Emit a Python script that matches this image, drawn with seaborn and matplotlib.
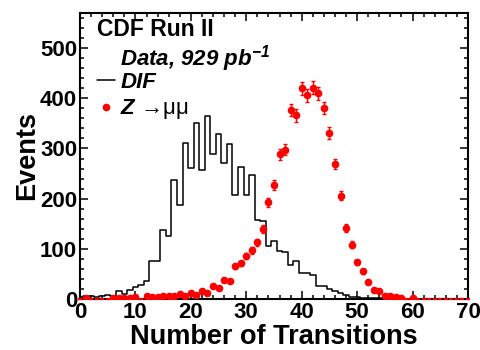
import numpy as np
import pandas as pd
import matplotlib
matplotlib.use("Agg")
import matplotlib.pyplot as plt
import seaborn as sns
from matplotlib.lines import Line2D
from matplotlib.ticker import MultipleLocator

# ---- data ----
bins = list(range(0, 71))
dif_counts = [3, 5, 6, 4, 5, 8, 5, 15, 10, 18,
              23, 28, 35, 76, 76, 137, 125, 238, 188, 311,
              261, 351, 258, 365, 288, 328, 271, 308, 208, 263,
              208, 248, 158, 155, 105, 116, 95, 93, 68, 75,
              51, 51, 48, 26, 25, 20, 15, 12, 8, 3,
              3, 2, 1, 1, 1, 0, 0, 0, 0, 0,
              0, 0, 0, 0, 0, 0, 0, 0, 0, 0, 0]
z_counts = [0, 1, 0, 0, 0, 0, 1, 1, 1, 2,
            3, 0, 5, 3, 3, 6, 6, 5, 9, 5,
            11, 8, 15, 11, 25, 21, 38, 36, 65, 71,
            86, 97, 113, 139, 193, 227, 288, 297, 377, 366,
            420, 406, 421, 410, 381, 330, 269, 206, 141, 108,
            73, 55, 34, 18, 15, 5, 5, 3, 1, 0,
            1, 0, 0, 0, 0, 0, 0, 0, 0, 0, 0]
z_errors = [0, 1, 0, 0, 0, 0, 1, 1, 1, 1,
            1, 0, 1.5, 1, 1, 1.5, 1.5, 1.5, 2, 1.5,
            2, 2, 2.5, 2, 3, 3, 4, 4, 5, 5.5,
            6, 6.5, 7, 7.5, 9, 10, 11, 11, 12.5, 12.5,
            13, 13, 13, 13, 12.5, 12, 10.5, 9.5, 7.5, 7,
            5.5, 5, 4, 3, 2.5, 1.5, 1.5, 1, 1, 0,
            1, 0, 0, 0, 0, 0, 0, 0, 0, 0, 0]
x_ticks = [0, 10, 20, 30, 40, 50, 60, 70]
y_ticks = [0, 100, 200, 300, 400, 500]

df = pd.DataFrame({"bin": bins, "dif": dif_counts, "z": z_counts,
                   "zerr": z_errors})

sns.set_theme(style="ticks")
plt.rcParams['font.family'] = ['Liberation Sans', 'DejaVu Sans']
for key in ["text.color", "axes.labelcolor", "xtick.color", "ytick.color",
            "axes.edgecolor"]:
    plt.rcParams[key] = "black"
plt.rcParams['mathtext.fontset'] = 'custom'
plt.rcParams['mathtext.rm'] = 'Liberation Sans'
plt.rcParams['mathtext.it'] = 'Liberation Sans:italic:bold'
plt.rcParams['mathtext.bf'] = 'Liberation Sans:italic:bold'

fig = plt.figure(figsize=(4.8, 3.5), dpi=100)
ax = fig.add_axes([80 / 480, 51 / 350, 388 / 480, 286 / 350])

edges = [b - 0.5 for b in bins] + [bins[-1] + 0.5]
sns.histplot(data=df, x="bin", weights="dif", bins=edges, element="step",
             fill=False, color="black", linewidth=1.1, ax=ax)

red = "#ff0000"
nzd = df[df["z"] > 0]
zd = df[df["z"] == 0]
ax.errorbar(nzd["bin"], nzd["z"], yerr=nzd["zerr"], fmt="o", color=red,
            ms=4.5, elinewidth=1.0, capsize=1.5, capthick=1.0, zorder=3)
ax.plot(zd["bin"], zd["z"], ls="none", marker="_", color=red, ms=3,
        mew=1.6, zorder=4, clip_on=False)

ax.set_xlim(0, 70)
ax.set_ylim(0, 570)
ax.set_xticks(x_ticks)
ax.set_yticks(y_ticks)
ax.xaxis.set_minor_locator(MultipleLocator(2))
ax.yaxis.set_minor_locator(MultipleLocator(20))
ax.tick_params(which="both", direction="in", top=True, right=True,
               width=1.1, color="black")
ax.tick_params(which="major", length=5.5, labelsize=16, pad=2)
ax.tick_params(which="minor", length=3)
for lab in ax.get_xticklabels() + ax.get_yticklabels():
    lab.set_fontweight("bold")
for sp in ax.spines.values():
    sp.set_linewidth(1.5)
    sp.set_color("black")

ax.set_xlabel("Number of Transitions", fontsize=19.5, fontweight="bold",
              labelpad=1)
ax.set_ylabel("Events", fontsize=19.5, fontweight="bold", labelpad=0)

ax.text(0.044, 0.9196, "CDF Run II", transform=ax.transAxes, fontsize=16.5,
        fontweight="bold", va="baseline", ha="left")
ax.text(0.103, 0.818, r"Data, 929 pb$^{\mathbf{-1}}$", transform=ax.transAxes,
        fontsize=16, fontweight="bold", fontstyle="italic",
        va="baseline", ha="left")

handles = [Line2D([], [], color="black", lw=1.1),
           Line2D([], [], color=red, marker="o", ls="none", ms=4.5)]
labels = ["DIF", r"$\mathit{Z}\ \mathrm{→μμ}$"]
leg = ax.legend(handles, labels, loc="upper left",
                bbox_to_anchor=(0.044, 0.794), frameon=False,
                borderpad=0, borderaxespad=0, handlelength=0.8,
                handletextpad=0.25, labelspacing=0.2,
                prop={"family": "Liberation Sans", "weight": "bold",
                      "style": "italic", "size": 16})

fig.savefig("out.png", dpi=100)
